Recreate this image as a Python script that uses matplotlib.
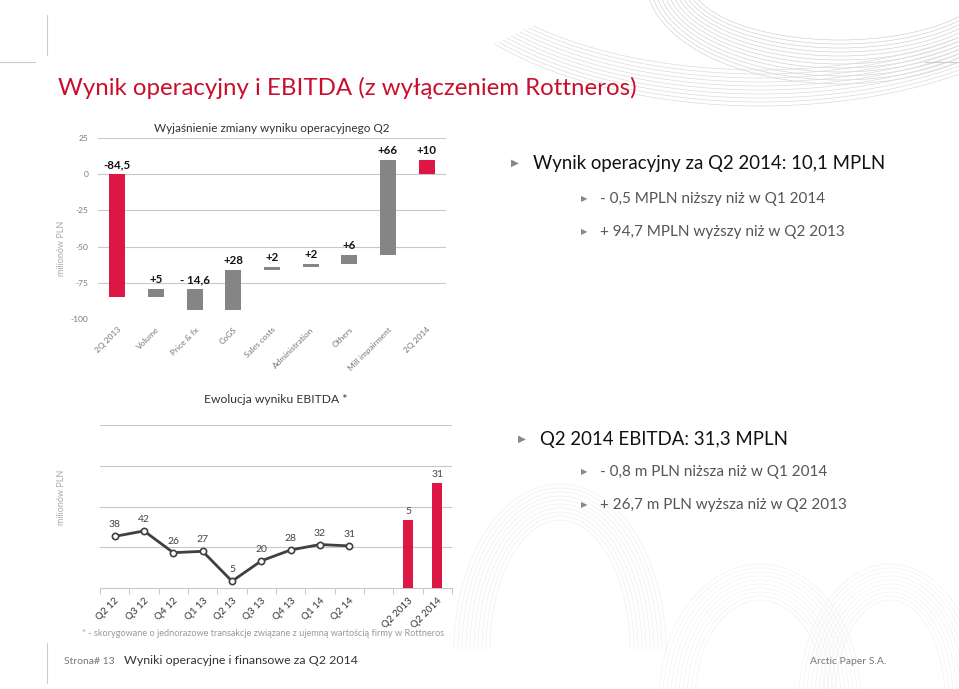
import numpy as np
import matplotlib
matplotlib.use('Agg')
import matplotlib.pyplot as plt
from matplotlib.patches import Arc

plt.rcParams['font.family'] = ['Lato', 'DejaVu Sans']
plt.rcParams['axes.unicode_minus'] = False

W, H = 959, 689

# waterfall: operating result bridge Q2 2013 -> Q2 2014
wf_labels = ['2Q 2013', 'Volume', 'Price & fx', 'CoGS', 'Sales costs',
             'Administration', 'Others', 'Mill impairment', '2Q 2014']
wf_start = -84.5
wf_changes = [5, -14.6, 28, 2, 2, 6, 66]
wf_text = ['-84,5', '+5', '- 14,6', '+28', '+2', '+2', '+6', '+66', '+10']

# EBITDA evolution
q_labels = ['Q2 12', 'Q3 12', 'Q4 12', 'Q1 13', 'Q2 13', 'Q3 13', 'Q4 13', 'Q1 14', 'Q2 14']
q_values = [38, 42, 26, 27, 5, 20, 28, 32, 31]
bar_labels = ['Q2 2013', 'Q2 2014']
bar_heights = [50, 77]      # drawn heights
bar_text = ['5', '31']

RED = '#DC1746'
GREY = '#858585'
GRID = '#c8c8c8'


def px(x, y):
    # pixel coords of the slide -> figure fraction
    return x / W, 1 - y / H


fig = plt.figure(figsize=(W / 100, H / 100), dpi=100)

# ---- faint background decoration (logo watermark lines)
# y axis is flipped here, so theta 0..180 is the lower half on screen
bg = fig.add_axes([0, 0, 1, 1], zorder=-10)
bg.set_xlim(0, W)
bg.set_ylim(H, 0)
bg.axis('off')
for r in range(0, 48, 4):
    bg.add_patch(Arc((840, -20), 300 + 2 * r, 120 + 2 * r, theta1=0, theta2=180,
                     color='#d4d4d4', lw=0.5))
for r in range(0, 40, 4):
    bg.add_patch(Arc((760, -80), 640 + 2 * r, 300 + 2 * r, theta1=25, theta2=155,
                     color='#dcdcdc', lw=0.5))
for r in range(0, 40, 4):
    bg.add_patch(Arc((560, 650), 140 + 2 * r, 260 + 2 * r, theta1=180, theta2=360,
                     color='#f0f0f0', lw=0.5))
    bg.add_patch(Arc((760, 700), 130 + 2 * r, 200 + 2 * r, theta1=180, theta2=360,
                     color='#f2f2f2', lw=0.5))
    bg.add_patch(Arc((890, 700), 110 + 2 * r, 200 + 2 * r, theta1=180, theta2=360,
                     color='#f2f2f2', lw=0.5))

# ---- title + decoration
fig.text(*px(58, 88), 'Wynik operacyjny i EBITDA (z wyłączeniem Rottneros)',
         color='#C8102E', fontsize=17.3, va='center', ha='left')
fig.add_artist(plt.Line2D([47 / W, 47 / W], [1 - 15 / H, 1 - 55 / H], color='#cccccc', lw=0.8))
fig.add_artist(plt.Line2D([0, 35 / W], [1 - 62 / H, 1 - 62 / H], color='#cccccc', lw=0.8))
fig.add_artist(plt.Line2D([925 / W, 1], [1 - 62 / H, 1 - 62 / H], color='#cccccc', lw=0.8))
fig.add_artist(plt.Line2D([47 / W, 47 / W], [1 - 643 / H, 1 - 683 / H], color='#cccccc', lw=0.8))

# ---- waterfall chart
ax1 = fig.add_axes([98 / W, 1 - 319 / H, 348 / W, 181 / H])
ax1.patch.set_alpha(0)
levels = np.concatenate([[wf_start], wf_start + np.cumsum(wf_changes)])
bottoms = [0] + list(levels[:-1]) + [0]
tops = [wf_start] + list(levels[1:]) + [levels[-1]]
colors = [RED] + [GREY] * len(wf_changes) + [RED]
x1 = np.arange(len(wf_labels))
ax1.bar(x1, np.array(tops) - np.array(bottoms), bottom=bottoms, width=0.42,
        color=colors, zorder=3)
for i, txt in enumerate(wf_text):
    ax1.annotate(txt, (i, max(bottoms[i], tops[i])), xytext=(0, 3),
                 textcoords='offset points', ha='center', va='bottom',
                 fontsize=8.3, fontweight='bold', color='#111111')
ax1.set_xlim(-0.5, len(wf_labels) - 0.5)
ax1.set_ylim(-100, 25)
ax1.set_yticks([-100, -75, -50, -25, 0, 25])
ax1.set_xticks(x1)
ax1.set_xticklabels(wf_labels, rotation=45, ha='right', rotation_mode='anchor',
                    fontsize=6.3, color='#555555')
ax1.tick_params(axis='both', length=0, labelsize=6, colors='#777777', pad=7)
ax1.tick_params(axis='x', pad=5)
ax1.grid(axis='y', color=GRID, lw=0.8, zorder=0)
for s in ax1.spines.values():
    s.set_visible(False)
ax1.set_title('Wyjaśnienie zmiany wyniku operacyjnego Q2', fontsize=8.5,
              color='#333333', pad=4)
fig.text(*px(62, 248), 'milionów PLN', rotation=90, fontsize=6.5,
         color='#aaaaaa', ha='center', va='center')

# ---- EBITDA chart
ax2 = fig.add_axes([100 / W, 1 - 588 / H, 352 / W, 163 / H])
ax2.patch.set_alpha(0)
xq = np.arange(len(q_values))
ax2.plot(xq, q_values, color='#404040', lw=2, marker='o', ms=4.5,
         mfc='white', mec='#404040', mew=1.2, zorder=4)
for xi, v in zip(xq, q_values):
    ax2.annotate(str(v), (xi, v), xytext=(0, 5), textcoords='offset points',
                 ha='center', va='bottom', fontsize=7.5, color='#444444')
xb = np.arange(len(bar_heights)) + len(q_values) + 1
ax2.bar(xb, bar_heights, width=0.35, color=RED, zorder=3)
for xi, h, t in zip(xb, bar_heights, bar_text):
    ax2.annotate(t, (xi, h), xytext=(0, 3), textcoords='offset points',
                 ha='center', va='bottom', fontsize=7.5, color='#444444')
ax2.set_xlim(-0.5, xb[-1] + 0.5)
ax2.set_ylim(0, 120)
ax2.set_yticks([30, 60, 90, 120])
ax2.set_yticklabels([])
ax2.tick_params(axis='y', length=0)
ax2.set_xticks(list(xq) + list(xb))
ax2.set_xticklabels(q_labels + bar_labels, rotation=45, ha='right',
                    rotation_mode='anchor', fontsize=7, color='#333333')
ax2.set_xticks(np.arange(-0.5, xb[-1] + 1, 1), minor=True)
ax2.tick_params(axis='x', which='major', length=0, pad=6)
ax2.tick_params(axis='x', which='minor', length=4, color=GRID, width=0.8)
ax2.grid(axis='y', color=GRID, lw=0.8, zorder=0)
for k in ['top', 'left', 'right']:
    ax2.spines[k].set_visible(False)
ax2.spines['bottom'].set_color(GRID)
ax2.spines['bottom'].set_linewidth(0.8)
ax2.set_title('Ewolucja wyniku EBITDA *', fontsize=8.7, color='#333333', pad=16)
fig.text(*px(62, 497), 'milionów PLN', rotation=90, fontsize=6.5,
         color='#aaaaaa', ha='center', va='center')
fig.text(*px(82, 633), '* - skorygowane o jednorazowe transakcje związane z ujemną wartością firmy w Rottneros',
         fontsize=6.6, color='#999999', ha='left', va='center')


# ---- bullet texts
def bullet(xt, xtext, y, txt, size, color):
    fig.text(*px(xt, y), '▶', family='DejaVu Sans', fontsize=size * 0.55,
             color='#888888', ha='center', va='center')
    fig.text(*px(xtext, y), txt, fontsize=size, color=color, ha='left', va='center')


bullet(515, 533, 163, 'Wynik operacyjny za Q2 2014: 10,1 MPLN', 13.4, '#111111')
bullet(584, 600, 199, '- 0,5 MPLN niższy niż w Q1 2014', 11, '#555555')
bullet(584, 600, 232, '+ 94,7 MPLN wyższy niż w Q2 2013', 11, '#555555')
bullet(522, 540, 439, 'Q2 2014 EBITDA: 31,3 MPLN', 13.4, '#111111')
bullet(584, 600, 472, '- 0,8 m PLN niższa niż w Q1 2014', 11, '#555555')
bullet(584, 600, 505, '+ 26,7 m PLN wyższa niż w Q2 2013', 11, '#555555')

# ---- footer
fig.text(*px(64, 661), 'Strona# 13', fontsize=7.5, color='#777777', va='center')
fig.text(*px(124, 661), 'Wyniki operacyjne i finansowe za Q2 2014', fontsize=8.9,
         color='#333333', va='center')
fig.text(*px(886, 661), 'Arctic Paper S.A.', fontsize=7.5, color='#777777',
         va='center', ha='right')

fig.savefig('out.png', dpi=100)
